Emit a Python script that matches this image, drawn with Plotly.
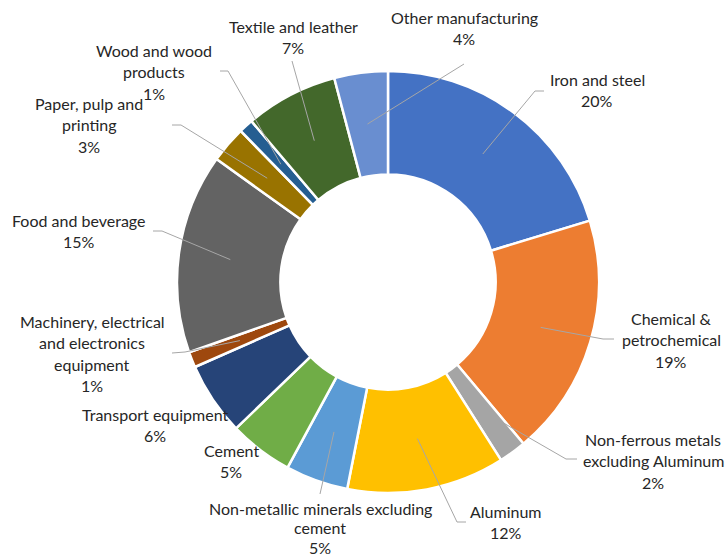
import math
import textwrap
import plotly.graph_objects as go

# Final energy use in industry by sub-sector (share, %)
categories = [
    "Iron and steel",
    "Chemical & petrochemical",
    "Non-ferrous metals excluding Aluminum",
    "Aluminum",
    "Non-metallic minerals excluding cement",
    "Cement",
    "Transport equipment",
    "Machinery, electrical and electronics equipment",
    "Food and beverage",
    "Paper, pulp and printing",
    "Wood and wood products",
    "Textile and leather",
    "Other manufacturing",
]
shares = [20.3, 18.6, 2.1, 12.1, 4.8, 4.9, 5.6, 1.2, 15.3, 2.8, 1.1, 7.1, 4.1]

colors = [
    "#4472C4", "#ED7D31", "#A5A5A5", "#FFC000", "#5B9BD5", "#70AD47",
    "#264478", "#9E480E", "#636363", "#997300", "#255E91", "#43682B", "#698ED0",
]

# ---- layout geometry (pixels) ----
W, H = 725, 558
CX, CY, R = 388, 282, 211
HOLE = 0.51
FONT = "Lato, 'Open Sans', sans-serif"
FONT_SIZE = 16
LINE_GAP = 21.5
TEXT_COLOR = "#262626"
LEADER_COLOR = "#A6A6A6"

# label placement per slice: wrap width, centre x, first-line y,
# line gap, leader elbow and leader end (None where no leader is drawn)
label_style = [
    dict(wrap=20, x=597, y=79, gap=LINE_GAP, elbow=(535, 91), end=(544, 91)),
    dict(wrap=13, x=671, y=318, gap=LINE_GAP, elbow=(603, 339), end=(614, 339)),
    dict(wrap=18, x=653, y=439, gap=LINE_GAP, elbow=(566, 459), end=(577, 459)),
    dict(wrap=20, x=506, y=511, gap=LINE_GAP, elbow=(457, 522), end=(466, 522)),
    dict(wrap=31, x=320, y=508, gap=19.5, elbow=None, end=(320, 494)),
    dict(wrap=20, x=231, y=450, gap=LINE_GAP, elbow=None, end=None),
    dict(wrap=20, x=155, y=414, gap=LINE_GAP, elbow=None, end=None),
    dict(wrap=21, x=92, y=321, gap=LINE_GAP, elbow=(185, 352), end=(172, 353)),
    dict(wrap=20, x=79, y=220, gap=LINE_GAP, elbow=(162, 231), end=(153, 231)),
    dict(wrap=15, x=89, y=103, gap=LINE_GAP, elbow=(181, 125), end=(172, 125)),
    dict(wrap=13, x=154, y=50, gap=LINE_GAP, elbow=(228, 71), end=(220, 71)),
    dict(wrap=20, x=293, y=26, gap=LINE_GAP, elbow=None, end=(292, 61)),
    dict(wrap=20, x=464, y=17, gap=LINE_GAP, elbow=None, end=(464, 64)),
]

fig = go.Figure()

fig.add_trace(go.Pie(
    labels=categories,
    values=shares,
    sort=False,
    direction="clockwise",
    rotation=0,
    hole=HOLE,
    marker=dict(colors=colors, line=dict(color="white", width=2.5)),
    textinfo="none",
    hoverinfo="label+percent",
    showlegend=False,
    domain=dict(x=[(CX - R) / W, (CX + R) / W],
                y=[1 - (CY + R) / H, 1 - (CY - R) / H]),
))

# invisible pixel-space axes for leader lines and labels
fig.add_trace(go.Scatter(x=[0, W], y=[0, H], mode="markers",
                         marker=dict(opacity=0), hoverinfo="skip",
                         showlegend=False))

total = sum(shares)
r_mid = R * (1 + HOLE) / 2
cum = 0.0
shapes = []
annotations = []
for name, val, st in zip(categories, shares, label_style):
    theta = 2 * math.pi * (cum + val / 2) / total
    cum += val
    ax = CX + r_mid * math.sin(theta)
    ay = CY - r_mid * math.cos(theta)

    if st["end"] is not None:
        pts = [(ax, ay)]
        if st["elbow"] is not None:
            pts.append(st["elbow"])
        pts.append(st["end"])
        path = "M " + " L ".join(f"{px:.1f},{py:.1f}" for px, py in pts)
        shapes.append(dict(type="path", path=path, xref="x", yref="y",
                           line=dict(color=LEADER_COLOR, width=1),
                           layer="above"))

    pct = f"{int(val / total * 100 + 0.5)}%"
    lines = textwrap.wrap(name, st["wrap"]) + [pct]
    for i, line in enumerate(lines):
        annotations.append(dict(
            x=st["x"], y=st["y"] + i * st["gap"], xref="x", yref="y",
            text=line, showarrow=False, xanchor="center", yanchor="middle",
            borderpad=0,
            font=dict(family=FONT, size=FONT_SIZE, color=TEXT_COLOR),
        ))

fig.update_layout(
    width=W, height=H,
    margin=dict(l=0, r=0, t=0, b=0),
    paper_bgcolor="white", plot_bgcolor="rgba(0,0,0,0)",
    xaxis=dict(range=[0, W], visible=False, fixedrange=True),
    yaxis=dict(range=[H, 0], visible=False, fixedrange=True),
    shapes=shapes,
    annotations=annotations,
)

fig.write_html("out.html")
